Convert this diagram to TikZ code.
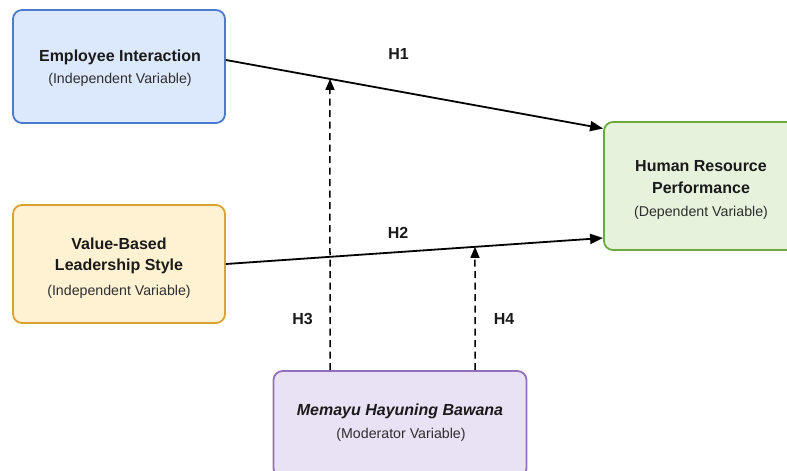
\documentclass[tikz,border=0pt]{standalone}
\usepackage{fontspec}
\setmainfont{Liberation Sans}
\usetikzlibrary{arrows.meta}
\definecolor{blueFill}{HTML}{DCE8FB}
\definecolor{blueLine}{HTML}{4A7BD0}
\definecolor{yelFill}{HTML}{FFF2D2}
\definecolor{yelLine}{HTML}{D9A136}
\definecolor{grnFill}{HTML}{E6F2DC}
\definecolor{grnLine}{HTML}{6AAA3F}
\definecolor{purFill}{HTML}{E9E2F5}
\definecolor{purLine}{HTML}{9270BE}
\definecolor{txt}{HTML}{1A1A1A}
\definecolor{subtxt}{HTML}{2E2E2E}
\tikzset{
  varbox/.style={draw, line width=1.8pt, rounded corners=9pt, inner sep=0pt},
  titletext/.style={anchor=base, font=\fontsize{16}{19}\selectfont\bfseries, text=txt, inner sep=0pt},
  subtext/.style={anchor=base, font=\fontsize{14.2}{17}\selectfont, text=subtxt, inner sep=0pt},
  hlabel/.style={anchor=base, font=\fontsize{16}{19}\selectfont\bfseries, text=txt, inner sep=0pt},
  mainarrow/.style={line width=1.8pt, -{Triangle[length=13pt,width=10pt]}},
  modarrow/.style={line width=1.5pt, dash pattern=on 7pt off 4.5pt, -{Triangle[length=11pt,width=9pt]}}
}
\begin{document}
\begin{tikzpicture}[x=1pt,y=-1pt]
\useasboundingbox (0,0) rectangle (787,471);
\clip (0,0) rectangle (787,471);
% boxes
\node[varbox, fill=blueFill, draw=blueLine, minimum width=212pt, minimum height=113pt] (ei) at (119,66.5) {};
\node[varbox, fill=yelFill, draw=yelLine, minimum width=212pt, minimum height=118pt] (vb) at (119,264) {};
\node[varbox, fill=grnFill, draw=grnLine, minimum width=194pt, minimum height=128pt] (hr) at (701,186) {};
\node[varbox, fill=purFill, draw=purLine, minimum width=253pt, minimum height=106pt] (mod) at (400,424) {};
% texts
\node[titletext] (eit) at (120,61) {Employee Interaction};
\node[subtext] (eis) at (120,83) {(Independent Variable)};
\node[titletext] (vbt1) at (119,249.3) {Value-Based};
\node[titletext] (vbt2) at (119,270.5) {Leadership Style};
\node[subtext] (vbs) at (119,295) {(Independent Variable)};
\node[titletext] (hrt1) at (701,171.7) {Human Resource};
\node[titletext] (hrt2) at (701,193.3) {Performance};
\node[subtext] (hrs) at (701,216) {(Dependent Variable)};
\node[titletext, font=\fontsize{16}{19}\selectfont\bfseries\itshape] (modt) at (400,415) {Memayu Hayuning Bawana};
\node[subtext] (mods) at (401,438) {(Moderator Variable)};
% connector end points
\coordinate (h1s) at (ei.east |- 0,60);
\coordinate (h1e) at (hr.west |- 0,128.5);
\coordinate (h2s) at (vb.east |- 0,264);
\coordinate (h2e) at (hr.west |- 0,238);
\coordinate (h3s) at (mod.north -| 330,0);
\coordinate (h4s) at (mod.north -| 475,0);
\coordinate (h3e) at (intersection of h1s--h1e and 330,0--330,471);
\coordinate (h4e) at (intersection of h2s--h2e and 475,0--475,471);
% connectors
\draw[mainarrow] (h1s) -- (h1e);
\draw[mainarrow] (h2s) -- (h2e);
\draw[modarrow] (h3s) -- (h3e);
\draw[modarrow] (h4s) -- (h4e);
% labels
\node[hlabel] (lh1) at (398.5,59.5) {H1};
\node[hlabel] (lh2) at (398,238) {H2};
\node[hlabel] (lh3) at (302.5,324) {H3};
\node[hlabel] (lh4) at (504,324) {H4};
\end{tikzpicture}
\end{document}
